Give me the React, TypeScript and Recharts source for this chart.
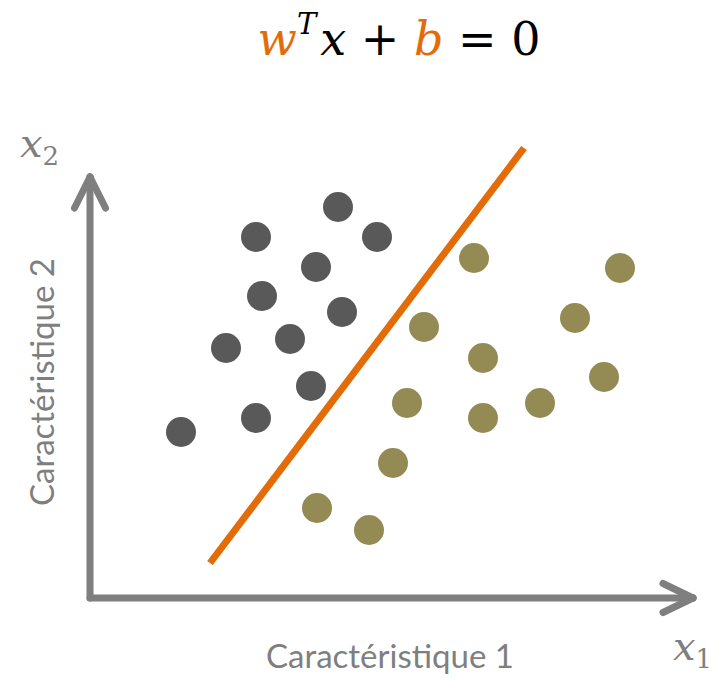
import { ScatterChart, Scatter, XAxis, YAxis, ReferenceLine, Customized } from "recharts";

// positions measured from the axis origin (x to the right, y upwards)
const classA = [
  { x: 91, y: 166 },
  { x: 136, y: 250 },
  { x: 166, y: 180 },
  { x: 172, y: 302 },
  { x: 166, y: 361 },
  { x: 200, y: 259 },
  { x: 221, y: 212 },
  { x: 226, y: 331 },
  { x: 252, y: 286 },
  { x: 248, y: 391 },
  { x: 287, y: 361 },
];

const classB = [
  { x: 384, y: 340 },
  { x: 530, y: 330 },
  { x: 334, y: 271 },
  { x: 485, y: 280 },
  { x: 393, y: 240 },
  { x: 514, y: 221 },
  { x: 317, y: 195 },
  { x: 393, y: 180 },
  { x: 450, y: 195 },
  { x: 303, y: 135 },
  { x: 227, y: 90 },
  { x: 279, y: 68 },
];

const boundary = [
  { x: 120, y: 35 },
  { x: 434, y: 450 },
];

const xArrow = { tip: 603, arm: 573, spread: 14.5 };
const yArrow = { tip: 421, arm: 390, spread: 15.5 };

const GREY = "#7f7f7f";
const ORANGE = "#e36c09";

const dot = (color: string) => (props: any) =>
  <circle cx={props.cx} cy={props.cy} r={15} fill={color} />;

const Texts = () => (
  <g>
    <text x={399} y={55} textAnchor="middle" fontFamily="DejaVu Serif" fontSize={46} fill="#000">
      <tspan fontStyle="italic" fill={ORANGE}>w</tspan>
      <tspan fontStyle="italic" fontSize={29} dy={-21}>T</tspan>
      <tspan fontStyle="italic" dy={21} dx={4}>x</tspan>
      <tspan> + </tspan>
      <tspan fontStyle="italic" fill={ORANGE}>b</tspan>
      <tspan> = 0</tspan>
    </text>
    <text x={20} y={157} fontFamily="DejaVu Serif" fontSize={40} fill={GREY}>
      <tspan fontStyle="italic">x</tspan>
      <tspan fontSize={26} dy={8}>2</tspan>
    </text>
    <text x={673} y={660} fontFamily="DejaVu Serif" fontSize={40} fill={GREY}>
      <tspan fontStyle="italic">x</tspan>
      <tspan fontSize={26} dy={8}>1</tspan>
    </text>
    <text x={390} y={668} textAnchor="middle" fontFamily="Lato" fontSize={33} fill={GREY}>
      Caractéristique 1
    </text>
    <text
      x={54}
      y={382}
      textAnchor="middle"
      fontFamily="Lato"
      fontSize={33}
      fill={GREY}
      transform="rotate(-90 54 382)"
    >
      Caractéristique 2
    </text>
  </g>
);

export default function App() {
  return (
    <div style={{ position: "absolute", left: 0, top: 0, background: "#fff" }}>
      <ScatterChart width={728} height={679} margin={{ top: 168, right: 28, bottom: 81, left: 90 }}>
        <XAxis type="number" dataKey="x" domain={[0, 610]} hide />
        <YAxis type="number" dataKey="y" domain={[0, 430]} hide />
        <ReferenceLine segment={[{ x: 0, y: 0 }, { x: xArrow.tip, y: 0 }]} stroke={GREY} strokeWidth={7} strokeLinecap="round" ifOverflow="visible" />
        <ReferenceLine segment={[{ x: xArrow.arm, y: xArrow.spread }, { x: xArrow.tip, y: 0 }]} stroke={GREY} strokeWidth={7} strokeLinecap="round" ifOverflow="visible" />
        <ReferenceLine segment={[{ x: xArrow.arm, y: -xArrow.spread }, { x: xArrow.tip, y: 0 }]} stroke={GREY} strokeWidth={7} strokeLinecap="round" ifOverflow="visible" />
        <ReferenceLine segment={[{ x: 0, y: 0 }, { x: 0, y: yArrow.tip }]} stroke={GREY} strokeWidth={7} strokeLinecap="round" ifOverflow="visible" />
        <ReferenceLine segment={[{ x: -yArrow.spread, y: yArrow.arm }, { x: 0, y: yArrow.tip }]} stroke={GREY} strokeWidth={7} strokeLinecap="round" ifOverflow="visible" />
        <ReferenceLine segment={[{ x: yArrow.spread, y: yArrow.arm }, { x: 0, y: yArrow.tip }]} stroke={GREY} strokeWidth={7} strokeLinecap="round" ifOverflow="visible" />
        <ReferenceLine segment={boundary} stroke={ORANGE} strokeWidth={7} ifOverflow="visible" />
        <Scatter data={classA} shape={dot("#595959")} isAnimationActive={false} />
        <Scatter data={classB} shape={dot("#948a54")} isAnimationActive={false} />
        <Customized component={Texts} />
      </ScatterChart>
    </div>
  );
}
